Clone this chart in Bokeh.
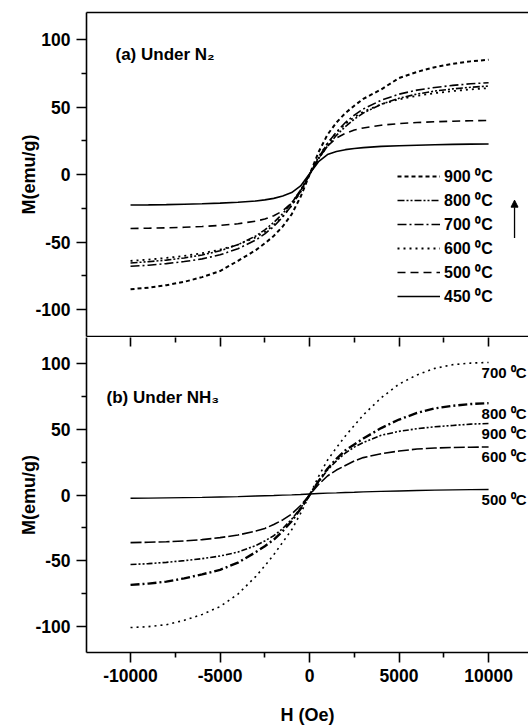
from bokeh.plotting import figure
from bokeh.models import (LinearAxis, FixedTicker, Range1d, Legend, LegendItem,
                          Label, Arrow, NormalHead, ColumnDataSource, CustomLabelingPolicy)
from bokeh.layouts import column
from bokeh.embed import file_html
from bokeh.resources import INLINE

# ---------------- data ----------------
H = [-10000, -9000, -8000, -7000, -6000, -5000, -4000, -3000, -2500, -2000, -1500,
     -1000, -500, 0, 500, 1000, 1500, 2000, 2500, 3000, 4000, 5000, 6000, 7000,
     8000, 9000, 10000]

# (a) Under N2
n2_900 = [-85, -83.8, -82, -79.5, -76, -71.5, -64, -56, -51, -45.5, -38.5, -29.5, -16.5, 0,
          16.5, 29.5, 38.5, 45.5, 51, 56, 63, 71.5, 76, 79.5, 82, 83.8, 85]
n2_800 = [-65.5, -64.6, -63.4, -61.8, -59.6, -56.5, -52, -45.5, -41, -35.5, -29, -21, -11.5, 0,
          11.5, 21, 29, 35.5, 41, 45.5, 52, 56.5, 59.6, 61.8, 63.4, 64.6, 65.5]
n2_700 = [-68, -67.2, -66, -64.5, -62.5, -59.5, -55, -48.5, -44, -38.5, -31.5, -23, -12.5, 0,
          12.5, 23, 31.5, 38.5, 44, 48.5, 55, 59.5, 62.5, 64.5, 66, 67.2, 68]
n2_600 = [-64, -63, -61.8, -60.3, -58.3, -55.7, -52, -46.5, -42.5, -37.5, -31, -23, -13, 0,
          13, 23, 31, 37.5, 42.5, 46.5, 52, 55.7, 58.3, 60.3, 61.8, 63, 64]
n2_500 = [-40, -39.8, -39.5, -39.1, -38.5, -37.7, -36.5, -34.5, -33, -30.5, -27, -21, -12, 0,
          12, 21, 27, 30.5, 33, 34.5, 36.5, 37.7, 38.5, 39.1, 39.5, 39.8, 40]
n2_450 = [-22.6, -22.5, -22.3, -22.0, -21.7, -21.2, -20.6, -19.6, -18.8, -17.7, -16.0, -13.4, -8.5, 0.5,
          9.5, 14.8, 17.0, 18.4, 19.3, 19.9, 20.8, 21.3, 21.7, 22.0, 22.3, 22.5, 22.6]

# (b) Under NH3
nh3_700 = [-101, -100.3, -98.8, -95.5, -91, -85, -75.5, -62, -54, -45.5, -36, -26.5, -14, 0,
           14, 26.5, 36, 45, 53, 61, 74, 84.5, 91.5, 96.5, 99.3, 100.5, 101]
nh3_800 = [-68.5, -67.5, -66, -63.5, -60.5, -57, -51.5, -43.5, -39, -34, -27.5, -20, -10.5, 0,
           10.5, 20, 27.5, 34, 38.5, 43, 51, 57.5, 62.5, 66, 68, 69.3, 70]
nh3_900 = [-53, -52.3, -51.3, -50, -48.5, -46.5, -43.5, -38.5, -35, -31, -25.5, -18.5, -10, 0,
           10, 19, 26, 32, 36.5, 40, 45.5, 48.5, 50.5, 52, 53, 54, 54.5]
nh3_600 = [-36.3, -36, -35.6, -35, -34, -32.5, -30.5, -27.5, -25.5, -22.5, -19, -14.5, -8, 0,
           8, 14.5, 19, 22.5, 26, 28.5, 31.5, 33.5, 35, 35.8, 36.2, 36.4, 36.6]
nh3_500 = [-2.5, -2.4, -2.2, -2.0, -1.8, -1.5, -1.2, -0.8, -0.6, -0.4, -0.1, 0.1, 0.4, 0.8,
           1.1, 1.4, 1.6, 1.9, 2.1, 2.4, 2.8, 3.1, 3.4, 3.7, 3.9, 4.1, 4.2]

y_major = [-100, -50, 0, 50, 100]
y_minor = [-75, -25, 25, 75]
x_major = [-10000, -5000, 0, 5000, 10000]
x_minor = [-7500, -2500, 2500, 7500]

FONT = "Liberation Sans"
LW = 1.6


def style_axis(ax, ticks):
    ax.axis_line_width = LW
    ax.major_tick_line_width = LW
    ax.minor_tick_line_width = LW
    ax.major_tick_out = 10
    ax.major_tick_in = 0
    ax.minor_tick_out = 5
    ax.minor_tick_in = 0
    ax.major_label_text_font = FONT
    ax.major_label_text_font_style = "bold"
    ax.major_label_text_font_size = "17.5px"
    ax.major_label_text_color = "black"
    ax.major_label_standoff = 4
    ax.major_label_overrides = {t: str(t) for t in ticks}   # plain hyphen minus
    ax.axis_label_text_font = FONT
    ax.axis_label_text_font_style = "bold"
    ax.axis_label_text_font_size = "18px"
    ax.axis_label_text_color = "black"


def base_fig(height, top, bottom):
    p = figure(width=528, height=height, x_range=Range1d(-12460, 12230),
               y_range=Range1d(-120, 120), output_backend="svg", toolbar_location=None,
               x_axis_location=None, y_axis_location=None,
               min_border_left=86, min_border_right=0,
               min_border_top=top, min_border_bottom=bottom)
    p.outline_line_color = None
    p.grid.visible = False
    p.background_fill_color = "white"
    p.border_fill_color = "white"
    yax = LinearAxis(ticker=FixedTicker(ticks=y_major, minor_ticks=y_minor),
                     axis_label="M(emu/g)")
    style_axis(yax, y_major)
    yax.major_label_standoff = 6
    yax.axis_label_standoff = -7
    p.add_layout(yax, "left")
    return p


NO_LABELS = CustomLabelingPolicy(code="for (const i of indices) { indices.unset(i) }\nreturn indices")


def border_axis(ticks=(), minor=()):
    ax = LinearAxis(ticker=FixedTicker(ticks=list(ticks), minor_ticks=list(minor)))
    ax.axis_line_width = LW
    ax.major_tick_line_width = LW
    ax.minor_tick_line_width = LW
    ax.major_tick_out = 0
    ax.minor_tick_out = 0
    ax.major_tick_in = 9 if ticks else 0
    ax.minor_tick_in = 5 if minor else 0
    ax.major_label_standoff = 0
    ax.major_label_text_font_size = "0px"
    ax.major_label_policy = NO_LABELS
    return ax


# ---------------- (a) Under N2 ----------------
p1 = base_fig(337, 12, 1)
p1.add_layout(border_axis(), "above")
p1.add_layout(border_axis(), "below")

series_a = [
    ("900 \u2070C", n2_900, "4 3", LW + 0.4),
    ("800 \u2070C", n2_800, "7 2 2 2 2 2", LW),
    ("700 \u2070C", n2_700, "9 3 2 3", LW),
    ("600 \u2070C", n2_600, "2 4", LW + 0.2),
    ("500 \u2070C", n2_500, "8 5", LW),
    ("450 \u2070C", n2_450, "solid", LW),
]
items = []
for lab, ys, dash, w in series_a:
    r = p1.line(H, ys, line_color="black", line_width=w, line_dash=dash)
    items.append(LegendItem(label=lab, renderers=[r]))

leg = Legend(items=items, location=(311, 29), padding=0, margin=0, spacing=2,
             glyph_width=43, glyph_height=20, label_height=20, label_standoff=4,
             border_line_color=None, background_fill_alpha=0,
             label_text_font=FONT, label_text_font_style="bold",
             label_text_font_size="16px", label_text_color="black")
p1.add_layout(leg)

p1.add_layout(Label(x=-10840, y=89, text="(a) Under N\u2082", text_font=FONT,
                    text_font_style="bold", text_font_size="17px",
                    text_baseline="middle", text_color="black"))
p1.add_layout(Arrow(end=NormalHead(size=7, fill_color="black", line_color="black"),
                    x_start=11450, y_start=-47, x_end=11450, y_end=-19,
                    line_width=1.3, line_color="black"))

# ---------------- (b) Under NH3 ----------------
p2 = base_fig(390, 0, 66)
tax = border_axis(x_major, x_minor)
tax.axis_line_color = None
p2.add_layout(tax, "above")
bax = LinearAxis(ticker=FixedTicker(ticks=x_major, minor_ticks=x_minor), axis_label="H (Oe)")
style_axis(bax, x_major)
bax.major_label_standoff = 6
bax.axis_label_standoff = 20
p2.add_layout(bax, "below")

series_b = [
    ("700", nh3_700, "2 4", LW),
    ("800", nh3_800, "9 3 2 3", LW + 0.8),
    ("900", nh3_900, "6 2 2 2 2 2", LW),
    ("600", nh3_600, "11 3", LW),
    ("500", nh3_500, "solid", LW - 0.2),
]
lab_x, lab_y, lab_t = [], [], []
for lab, ys, dash, w in series_b:
    p2.line(H, ys, line_color="black", line_width=w, line_dash=dash)
    lab_x.append(H[-1])
    lab_y.append(ys[-1])
    lab_t.append(lab + " \u2070C")

src = ColumnDataSource(dict(x=lab_x, y=lab_y, t=lab_t))
p2.text(x="x", y="y", text="t", source=src, x_offset=-7, y_offset=10,
        text_font={"value": FONT}, text_font_style="bold", text_font_size="15px",
        text_baseline="middle", text_align="left", text_color="black")

p2.add_layout(Label(x=-11340, y=74, text="(b) Under NH\u2083", text_font=FONT,
                    text_font_style="bold", text_font_size="17px",
                    text_baseline="middle", text_color="black"))

layout = column(p1, p2, spacing=0)
open("out.html", "w").write(file_html(layout, INLINE))
